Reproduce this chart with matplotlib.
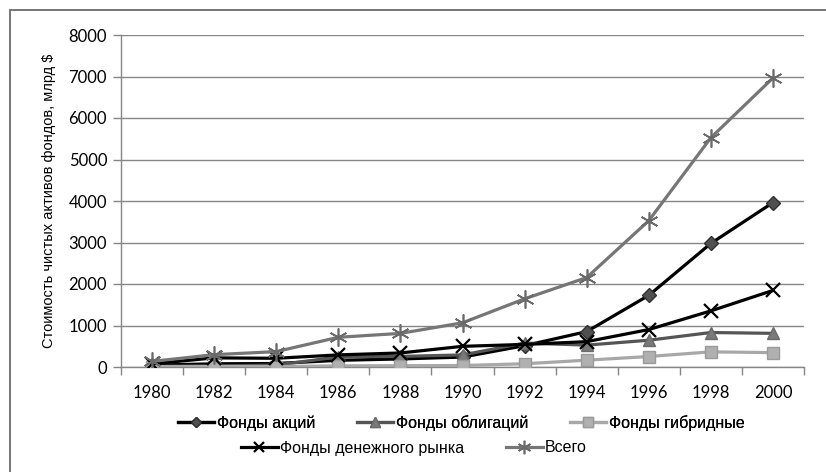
import numpy as np
import matplotlib.pyplot as plt
from matplotlib.patches import Rectangle

years = ['1980', '1982', '1984', '1986', '1988', '1990', '1992', '1994', '1996', '1998', '2000']
equity = [44, 77, 84, 161, 194, 239, 514, 853, 1726, 2978, 3962]
bonds = [14, 27, 46, 243, 255, 291, 577, 527, 645, 831, 811]
hybrid = [10, 11, 12, 27, 31, 36, 78, 164, 253, 365, 346]
money = [76, 220, 210, 292, 338, 498, 544, 611, 902, 1352, 1845]
total = [135, 297, 371, 716, 810, 1065, 1643, 2155, 3526, 5525, 6965]

names = ['Фонды акций', 'Фонды облигаций', 'Фонды гибридные', 'Фонды денежного рынка', 'Всего']

plt.rcParams['font.family'] = ['Liberation Sans', 'DejaVu Sans']

fig = plt.figure(figsize=(8.26, 4.72), dpi=100)
# outer frame (only top and left edges are visible in the picture)
fig.patches.append(Rectangle((10/826, -0.1), 1.0, 1 - 10/472 + 0.1, transform=fig.transFigure,
                             fill=False, edgecolor='#6b6b6b', linewidth=1.3))

ax = fig.add_axes([121/826, 1 - 367/472, (804 - 121)/826, (367 - 35)/472])
x = np.arange(len(years))

styles = [
    dict(color='black', marker='D', markersize=7, markerfacecolor='#505050', markeredgecolor='#303030'),
    dict(color='#555555', marker='^', markersize=9, markerfacecolor='#7a7a7a', markeredgecolor='#6a6a6a'),
    dict(color='#a8a8a8', marker='s', markersize=9, markerfacecolor='#b0b0b0', markeredgecolor='#9a9a9a'),
    dict(color='black', marker='x', markersize=10, markeredgewidth=1.6, markeredgecolor='black'),
    dict(color='#767676', marker=(6, 2, 0), markersize=13, markeredgewidth=1.2, markeredgecolor='#6a6a6a'),
]
series = [equity, bonds, hybrid, money, total]
handles = []
for vals, st, nm in zip(series, styles, names):
    h, = ax.plot(x, vals, linewidth=2.3, label=nm, zorder=3, **st)
    handles.append(h)

ax.set_xlim(-0.5, len(years) - 0.5)
ax.set_ylim(0, 8000)
ax.set_yticks(np.arange(0, 8001, 1000))
ax.set_xticks(x)
ax.set_xticklabels(years, fontfamily='Lato', fontsize=12)
ax.set_xticks(np.arange(-0.5, len(years), 1), minor=True)
for lbl in ax.get_yticklabels():
    lbl.set_fontfamily('Lato')
    lbl.set_fontsize(12)
ax.tick_params(axis='x', which='major', length=0, pad=13)
ax.tick_params(axis='x', which='minor', length=6, color='#868686', width=1)
ax.tick_params(axis='y', length=6, color='#868686', width=1, pad=4)
ax.grid(axis='y', color='#868686', linewidth=1)
ax.set_axisbelow(True)
for s in ['top', 'right']:
    ax.spines[s].set_visible(False)
for s in ['left', 'bottom']:
    ax.spines[s].set_color('#868686')
    ax.spines[s].set_linewidth(1)

ax.set_ylabel('Стоимость чистых активов фондов, млрд $', fontsize=10.5)
ax.yaxis.set_label_coords(-0.095, 0.5)

leg1 = fig.legend(handles[:3], names[:3], loc='center', bbox_to_anchor=(461/826, 1 - 423/472),
                  ncol=3, frameon=False, fontsize=11.5, handlelength=2.3, handletextpad=0.15,
                  columnspacing=2.6, markerscale=0.75)
leg2 = fig.legend(handles[3:], names[3:], loc='center', bbox_to_anchor=(414/826, 1 - 448/472),
                  ncol=2, frameon=False, fontsize=11.5, handlelength=2.3, handletextpad=0.15,
                  columnspacing=2.6, markerscale=0.75)
fig.add_artist(leg1)

fig.savefig('out.png', dpi=100)
